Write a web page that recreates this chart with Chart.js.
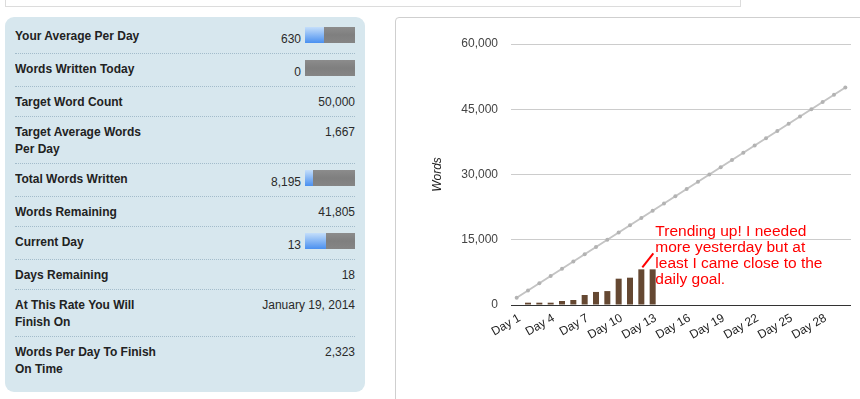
<!DOCTYPE html>
<html>
<head>
<meta charset="utf-8">
<title>Word count progress</title>
<script src="https://cdn.jsdelivr.net/npm/chart.js@4.4.1/dist/chart.umd.min.js"></script>
<style>
  html, body { margin: 0; padding: 0; background: #fff; }
  body { width: 860px; height: 399px; overflow: hidden; position: relative;
         font-family: "Liberation Sans", Arial, sans-serif; }
  #topbar { position: absolute; left: 5px; top: -10px; width: 734px; height: 15px;
            border: 1px solid #dcdcdc; }
  #stats { position: absolute; left: 5px; top: 17px; width: 340px; height: 371px;
           padding: 4px 10px 0; background: #d7e7ee; border-radius: 9px; }
  .row { display: flex; justify-content: space-between; align-items: flex-start;
         box-sizing: border-box; padding-top: 6px; border-bottom: 1px dotted #a3bccb;
         line-height: 17px; font-size: 12px; color: #222; overflow: hidden; }
  .row:last-child { border-bottom: none; }
  .lbl { font-weight: bold; width: 150px; padding-top: 1px; }
  .val { text-align: right; color: #2a2a2a; }
  .val.nb { padding-top: 1px; }
  .bar { display: inline-block; position: relative; width: 50px; height: 16px; margin-left: 4px;
         background: linear-gradient(#8c8c8c, #7f7f7f 50%, #858585); }
  .bar i { position: absolute; left: 0; top: 0; bottom: 0;
           background: linear-gradient(#c4defa, #4a90f0); }
  #chartbox { position: absolute; left: 395px; top: 17px; width: 500px; height: 400px;
              border: 1px solid #cfcfcf; border-radius: 4px 0 0 0; }
  #wrap { position: absolute; left: 396px; top: 18px; width: 464px; height: 381px; }
</style>
</head>
<body>
<div id="topbar"></div>
<div id="stats"></div>
<div id="chartbox"></div>
<div id="wrap"><canvas id="chart"></canvas></div>

<script>
// ============================================================
// DATOS
// ============================================================

const statLabels = [
  'Your Average Per Day', 'Words Written Today', 'Target Word Count',
  'Target Average Words<br>Per Day', 'Total Words Written', 'Words Remaining',
  'Current Day', 'Days Remaining', 'At This Rate You Will<br>Finish On',
  'Words Per Day To Finish<br>On Time'
];
const statValues = [
  '630', '0', '50,000', '1,667', '8,195', '41,805', '13', '18',
  'January 19, 2014', '2,323'
];
// fracción de la barrita de progreso (null = sin barra)
const statBars = [0.38, 0, null, null, 0.164, null, 0.42, null, null, null];

const days = [
  'Day 1', 'Day 2', 'Day 3', 'Day 4', 'Day 5', 'Day 6', 'Day 7', 'Day 8', 'Day 9', 'Day 10',
  'Day 11', 'Day 12', 'Day 13', 'Day 14', 'Day 15', 'Day 16', 'Day 17', 'Day 18', 'Day 19', 'Day 20',
  'Day 21', 'Day 22', 'Day 23', 'Day 24', 'Day 25', 'Day 26', 'Day 27', 'Day 28', 'Day 29', 'Day 30'
];
const shownDays = ['Day 1', 'Day 4', 'Day 7', 'Day 10', 'Day 13', 'Day 16', 'Day 19', 'Day 22', 'Day 25', 'Day 28'];

// palabras acumuladas (barras)
const wordsWritten = [0, 530, 530, 530, 920, 1150, 2300, 3000, 3200, 6050, 6280, 8195, 8195];

// meta acumulada (línea gris)
const targetWords = [
  1667, 3333, 5000, 6667, 8333, 10000, 11667, 13333, 15000, 16667,
  18333, 20000, 21667, 23333, 25000, 26667, 28333, 30000, 31667, 33333,
  35000, 36667, 38333, 40000, 41667, 43333, 45000, 46667, 48333, 50000
];

const yTicks = [0, 15000, 30000, 45000, 60000];

const annotationDay = 'Day 12';
const annotationLines = [
  'Trending up! I needed',
  'more yesterday but at',
  'least I came close to the',
  'daily goal.'
];

// ============================================================
// PANEL DE ESTADÍSTICAS
// ============================================================

const stats = document.getElementById('stats');
statLabels.forEach((label, i) => {
  const frac = statBars[i];
  const bar = frac === null ? '' :
    `<span class="bar"><i style="width:${Math.round(frac * 50)}px"></i></span>`;
  // alto de la fila: con barra, de dos líneas o normal
  const h = label.includes('<br>') ? 47 : (frac === null ? 30 : 33);
  const cls = frac === null ? 'val nb' : 'val';
  stats.insertAdjacentHTML('beforeend',
    `<div class="row" style="height:${h}px"><div class="lbl">${label}</div><div class="${cls}">${statValues[i]}${bar}</div></div>`);
});

// ============================================================
// GRÁFICA
// ============================================================

const FONT = "'Liberation Sans', Arial, sans-serif";

// texto rojo con la línea que apunta a la barra
const annotationPlugin = {
  id: 'annotation',
  afterDatasetsDraw(chart) {
    const el = chart.getDatasetMeta(1).data[days.indexOf(annotationDay)];
    if (!el) return;
    const ctx = chart.ctx;
    ctx.save();
    ctx.strokeStyle = '#ff0000';
    ctx.lineWidth = 2;
    ctx.beginPath();
    ctx.moveTo(el.x + 1, el.y - 2);
    ctx.lineTo(el.x + 12, el.y - 16);
    ctx.stroke();
    ctx.fillStyle = '#ff0000';
    ctx.font = '15.5px ' + FONT;
    ctx.textBaseline = 'alphabetic';
    ctx.textAlign = 'left';
    annotationLines.forEach((t, i) => ctx.fillText(t, el.x + 14, el.y - 33 + i * 16));
    ctx.restore();
  }
};

new Chart(document.getElementById('chart'), {
  type: 'bar',
  data: {
    labels: days,
    datasets: [
      {
        type: 'line',
        data: targetWords,
        borderColor: '#c4c4c4',
        borderWidth: 2,
        pointRadius: 2,
        pointBorderWidth: 0,
        pointBackgroundColor: '#b3b3b3',
        tension: 0
      },
      {
        type: 'bar',
        data: wordsWritten,
        backgroundColor: '#654832',
        barPercentage: 0.53,
        categoryPercentage: 1
      }
    ]
  },
  options: {
    responsive: true,
    maintainAspectRatio: false,
    animation: false,
    layout: { padding: { top: 26, right: 9, left: 0, bottom: 0 } },
    plugins: { legend: { display: false }, tooltip: { enabled: false } },
    scales: {
      x: {
        offset: true,
        grid: { display: false, drawTicks: false },
        border: { display: false },
        ticks: {
          autoSkip: false,
          minRotation: 30,
          maxRotation: 30,
          padding: 6,
          labelOffset: 3,
          color: '#222',
          font: { size: 12, family: FONT },
          callback(v, i) {
            const l = days[i];
            return shownDays.includes(l) ? l : '';
          }
        },
        afterFit(s) { s.height = 94; }
      },
      y: {
        min: 0,
        max: 60000,
        afterBuildTicks(s) { s.ticks = yTicks.map(v => ({ value: v })); },
        grid: {
          drawTicks: false,
          color: c => (c.tick && c.tick.value === 0 ? '#333' : '#cccccc')
        },
        border: { display: false },
        ticks: {
          padding: 13,
          color: '#444',
          font: { size: 12, family: FONT },
          callback: v => v.toLocaleString('en-US')
        },
        title: {
          display: true,
          text: 'Words',
          color: '#222',
          font: { size: 12, style: 'italic', family: FONT },
          padding: { top: 34, bottom: 0 }
        },
        afterFit(s) { s.width = 115; }
      }
    }
  },
  plugins: [annotationPlugin]
});
</script>
</body>
</html>
